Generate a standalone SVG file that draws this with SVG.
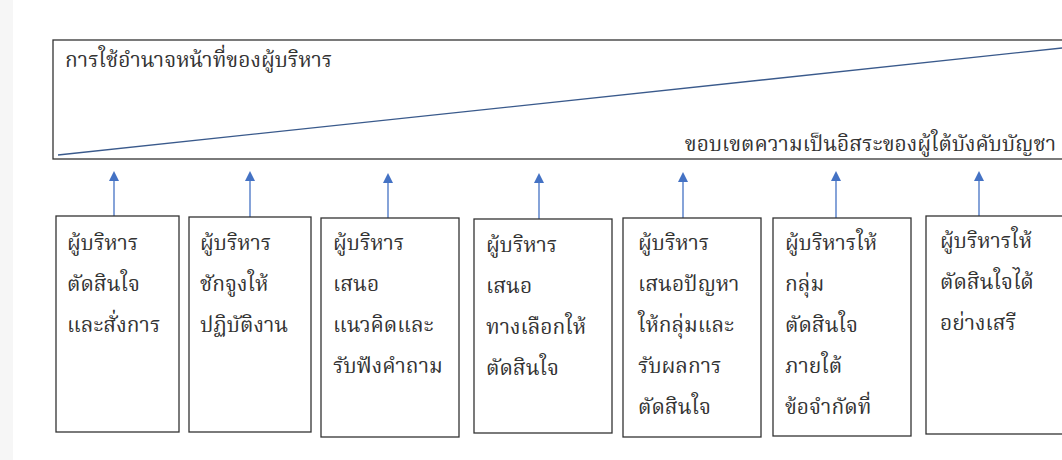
<svg xmlns="http://www.w3.org/2000/svg" width="1062" height="460" viewBox="0 0 1062 460">
<defs>
<marker id="ah" markerWidth="10" markerHeight="10" refX="5" refY="5" orient="auto" markerUnits="userSpaceOnUse">
<path d="M0,10 L5,0 L10,10 Z" fill="#4472C4" transform="rotate(90 5 5)"/>
</marker>
<style>
.box{fill:#fff;stroke:#333;stroke-width:1.3}
.t{font-family:"Noto Serif Thai","Noto Sans Thai Looped","Noto Sans Thai","Noto Sans",serif;font-size:21px;fill:#333}
.arr{stroke:#4472C4;stroke-width:1.3;fill:none}
</style>
</defs>
<rect width="1062" height="460" fill="#fff"/>
<rect x="0" y="0" width="13" height="460" fill="#f6f6f6"/>
<g id="frame">
<rect class="box" x="53" y="40" width="1020" height="119"/>
<line x1="58" y1="155" x2="1062" y2="48" stroke="#3A5A8C" stroke-width="1.3"/>
<text class="t" x="65" y="67">การใช้อำนาจหน้าที่ของผู้บริหาร</text>
<text class="t" x="1056" y="151" text-anchor="end">ขอบเขตความเป็นอิสระของผู้ใต้บังคับบัญชา</text>
</g>
<g id="connectors">
<line class="arr" x1="114" y1="216" x2="114" y2="176" marker-end="url(#ah)"/>
<line class="arr" x1="250" y1="217" x2="250" y2="176" marker-end="url(#ah)"/>
<line class="arr" x1="388" y1="218" x2="388" y2="178" marker-end="url(#ah)"/>
<line class="arr" x1="539" y1="219" x2="539" y2="178" marker-end="url(#ah)"/>
<line class="arr" x1="683" y1="218" x2="683" y2="177" marker-end="url(#ah)"/>
<line class="arr" x1="836" y1="218" x2="836" y2="176" marker-end="url(#ah)"/>
<line class="arr" x1="979" y1="216" x2="979" y2="176" marker-end="url(#ah)"/>
</g>
<g id="n1">
<rect class="box" x="56" y="216" width="123" height="216"/>
<text class="t"><tspan x="67" y="250">ผู้บริหาร</tspan><tspan x="67" y="291">ตัดสินใจ</tspan><tspan x="67" y="332">และสั่งการ</tspan></text>
</g>
<g id="n2">
<rect class="box" x="189" y="217" width="122" height="215"/>
<text class="t"><tspan x="200" y="250">ผู้บริหาร</tspan><tspan x="200" y="291">ชักจูงให้</tspan><tspan x="200" y="332">ปฏิบัติงาน</tspan></text>
</g>
<g id="n3">
<rect class="box" x="321" y="218" width="138" height="219"/>
<text class="t"><tspan x="333" y="250">ผู้บริหาร</tspan><tspan x="333" y="291">เสนอ</tspan><tspan x="333" y="332">แนวคิดและ</tspan><tspan x="333" y="373">รับฟังคำถาม</tspan></text>
</g>
<g id="n4">
<rect class="box" x="474" y="219" width="138" height="214"/>
<text class="t"><tspan x="486" y="252">ผู้บริหาร</tspan><tspan x="486" y="293">เสนอ</tspan><tspan x="486" y="334">ทางเลือกให้</tspan><tspan x="486" y="375">ตัดสินใจ</tspan></text>
</g>
<g id="n5">
<rect class="box" x="623" y="218" width="138" height="219"/>
<text class="t"><tspan x="638" y="250">ผู้บริหาร</tspan><tspan x="638" y="291">เสนอปัญหา</tspan><tspan x="638" y="332">ให้กลุ่มและ</tspan><tspan x="638" y="373">รับผลการ</tspan><tspan x="638" y="414">ตัดสินใจ</tspan></text>
</g>
<g id="n6">
<rect class="box" x="773" y="218" width="138" height="218"/>
<text class="t"><tspan x="785" y="250">ผู้บริหารให้</tspan><tspan x="785" y="291">กลุ่ม</tspan><tspan x="785" y="332">ตัดสินใจ</tspan><tspan x="785" y="373">ภายใต้</tspan><tspan x="785" y="414">ข้อจำกัดที่</tspan></text>
</g>
<g id="n7">
<rect class="box" x="926" y="216" width="150" height="218"/>
<text class="t"><tspan x="940" y="248">ผู้บริหารให้</tspan><tspan x="940" y="289">ตัดสินใจได้</tspan><tspan x="940" y="330">อย่างเสรี</tspan></text>
</g>
</svg>
